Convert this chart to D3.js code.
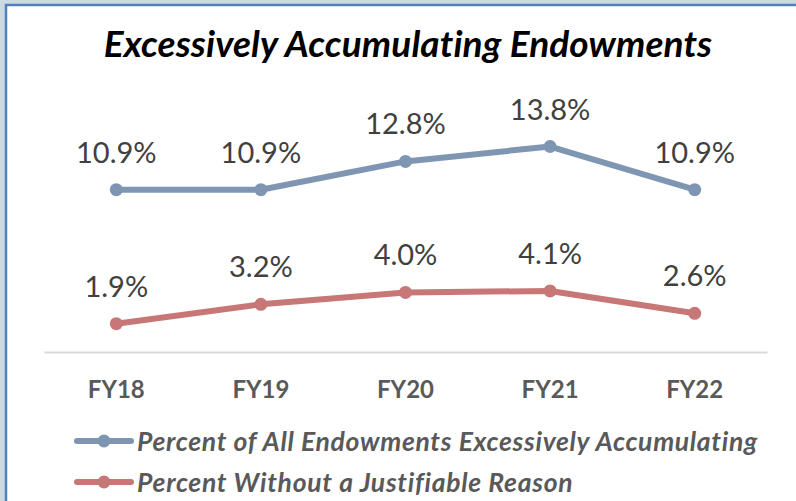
<!DOCTYPE html>
<html>
<head>
<meta charset="utf-8">
<script src="https://cdn.jsdelivr.net/npm/d3@7"></script>
<style>
  html, body { margin: 0; padding: 0; background: #cdd9e1; }
  svg { display: block; }
  text { font-family: Lato, "Open Sans", sans-serif; }
</style>
</head>
<body>
<svg id="chart" width="796" height="501"></svg>
<script>
'use strict';

var years = ['FY18', 'FY19', 'FY20', 'FY21', 'FY22']
var allEndowments = [10.9, 10.9, 12.8, 13.8, 10.9]
var withoutReason = [1.9, 3.2, 4.0, 4.1, 2.6]
var seriesNames = [
    'Percent of All Endowments Excessively Accumulating',
    'Percent Without a Justifiable Reason'
]
var seriesColors = ['#7f96b2', '#c77776']

var svg = d3.select('#chart')

// stretch a text node to a given width with letter spacing
function fitWidth(sel, target) {
    sel.each(function() {
        var w = this.getComputedTextLength()
        var n = this.textContent.length
        if (n > 1) d3.select(this).attr('letter-spacing', (target - w) / (n - 1))
    })
}

// outer frame
svg.append('rect')
    .attr('x', 6).attr('y', 5)
    .attr('width', 800).attr('height', 510)
    .attr('fill', '#ffffff')
    .attr('stroke', '#4f81bd')
    .attr('stroke-width', 2.5)

svg.append('text')
    .attr('x', 408).attr('y', 57)
    .attr('text-anchor', 'middle')
    .attr('font-size', 37)
    .attr('font-weight', 'bold')
    .attr('font-style', 'italic')
    .attr('fill', '#000')
    .text('Excessively Accumulating Endowments')
    .call(fitWidth, 608)

var x = d3.scaleBand().domain(years).range([44, 767])
var y = d3.scaleLinear().domain([0, 16]).range([352, 352 - 16 * 14.89])

// category axis
var xAxis = svg.append('g')
    .attr('transform', 'translate(0,352)')
    .call(d3.axisBottom(x).tickSize(0).tickPadding(29))
xAxis.select('.domain').attr('stroke', '#d9d9d9').attr('stroke-width', 2)
xAxis.selectAll('text')
    .attr('font-size', 24)
    .attr('font-weight', 'bold')
    .attr('fill', '#595959')
    .style('font-family', 'Lato, "Open Sans", sans-serif')

var cx = function(d, i) { return x(years[i]) + x.bandwidth() / 2 }

;[allEndowments, withoutReason].forEach(function(values, s) {
    var g = svg.append('g')
    var line = d3.line()
        .x(function(d, i) { return cx(d, i) })
        .y(function(d) { return y(d) })
    g.append('path')
        .datum(values)
        .attr('d', line)
        .attr('fill', 'none')
        .attr('stroke', seriesColors[s])
        .attr('stroke-width', 6)
        .attr('stroke-linejoin', 'round')
    g.selectAll('circle')
        .data(values)
        .enter().append('circle')
        .attr('cx', cx)
        .attr('cy', function(d) { return y(d) })
        .attr('r', 6.5)
        .attr('fill', seriesColors[s])
    g.selectAll('text')
        .data(values)
        .enter().append('text')
        .attr('x', cx)
        .attr('y', function(d) { return y(d) - 27 })
        .attr('text-anchor', 'middle')
        .attr('font-size', 29)
        .attr('fill', '#404040')
        .text(function(d) { return d.toFixed(1) + '%' })
})

// legend
var legend = svg.append('g')
seriesNames.forEach(function(name, i) {
    var ly = 441 + i * 41
    legend.append('line')
        .attr('x1', 77).attr('x2', 131)
        .attr('y1', ly).attr('y2', ly)
        .attr('stroke', seriesColors[i])
        .attr('stroke-width', 6)
        .attr('stroke-linecap', 'round')
    legend.append('circle')
        .attr('cx', 104).attr('cy', ly)
        .attr('r', 6.5)
        .attr('fill', seriesColors[i])
    legend.append('text')
        .attr('x', 137).attr('y', ly + 10)
        .attr('font-size', 26.5)
        .attr('font-weight', 'bold')
        .attr('font-style', 'italic')
        .attr('fill', '#595959')
        .text(name)
        .call(fitWidth, i === 0 ? 620 : 435)
})
</script>
</body>
</html>
